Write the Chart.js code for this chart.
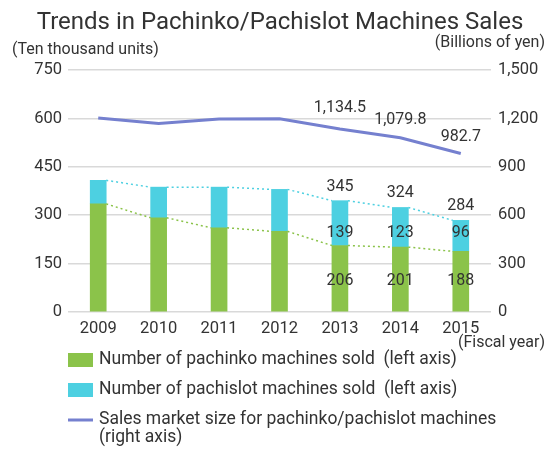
<!DOCTYPE html>
<html>
<head>
<meta charset="utf-8">
<script src="https://cdn.jsdelivr.net/npm/chart.js@4/dist/chart.umd.min.js"></script>
<style>
html, body { margin: 0; padding: 0; background: #fff; }
</style>
</head>
<body>
<canvas id="sales_chart" width="548" height="450"></canvas>
<script>
"use strict"

// Fiscal years and sales figures (ten thousand units / billions of yen)
var years = ["2009", "2010", "2011", "2012", "2013", "2014", "2015"];
var pachinkoUnits = [335, 292, 261, 250, 206, 201, 188];
var pachislotUnits = [73, 95, 126, 130, 139, 123, 96];
var marketSize = [1203, 1169, 1197, 1198, 1134.5, 1079.8, 982.7];
var labeledYears = ["2013", "2014", "2015"];
var leftTicks = [0, 150, 300, 450, 600, 750];
var rightTicks = [0, 300, 600, 900, 1200, 1500];
var seriesNames = [
    "Number of pachinko machines sold  (left axis)",
    "Number of pachislot machines sold  (left axis)",
    "Sales market size for pachinko/pachislot machines\n(right axis)"
];

var FONT = "Roboto, 'DejaVu Sans', sans-serif";
var TEXT = "#333333";
var GREEN = "#8bc34a";
var CYAN = "#4dd0e1";
var PURPLE = "#7580cf";

function fmt(v, digits) {
    return v.toLocaleString("en-US", {minimumFractionDigits: digits, maximumFractionDigits: digits});
}

var extras = {
    id: 'extras',
    afterDatasetsDraw: function(chart) {
        var ctx = chart.ctx;
        var y = chart.scales.y;
        ctx.save();
        // dotted series lines between bar tops
        [[0, GREEN], [1, CYAN]].forEach(function(d) {
            var bars = chart.getDatasetMeta(d[0]).data;
            ctx.strokeStyle = d[1];
            ctx.lineWidth = 1.5;
            ctx.setLineDash([2, 3]);
            ctx.beginPath();
            for (var i = 0; i < bars.length - 1; i++) {
                ctx.moveTo(bars[i].x + bars[i].width / 2, bars[i].y);
                ctx.lineTo(bars[i + 1].x - bars[i + 1].width / 2, bars[i + 1].y);
            }
            ctx.stroke();
        });
        ctx.setLineDash([]);

        // value labels
        ctx.fillStyle = TEXT;
        ctx.font = "16px " + FONT;
        ctx.textAlign = "center";
        ctx.textBaseline = "middle";
        var green = chart.getDatasetMeta(0).data;
        var cyan = chart.getDatasetMeta(1).data;
        years.forEach(function(yr, i) {
            if (labeledYears.indexOf(yr) < 0) return;
            ctx.fillText(String(pachinkoUnits[i]), green[i].x, y.getPixelForValue(95));
            ctx.fillText(String(pachislotUnits[i]), cyan[i].x, y.getPixelForValue(244));
            ctx.fillText(String(pachinkoUnits[i] + pachislotUnits[i]), cyan[i].x, cyan[i].y - 14);
        });
        var pts = chart.getDatasetMeta(2).data;
        var offs = [-21, -18, -16];
        var k = 0;
        years.forEach(function(yr, i) {
            if (labeledYears.indexOf(yr) < 0) return;
            ctx.fillText(fmt(marketSize[i], 1), pts[i].x, pts[i].y + offs[k]);
            k++;
        });
        ctx.restore();
    },
    afterDraw: function(chart) {
        var ctx = chart.ctx;
        ctx.save();
        ctx.fillStyle = TEXT;
        ctx.textAlign = "center";
        ctx.textBaseline = "alphabetic";
        ctx.font = "24px " + FONT;
        ctx.fillText("Trends in Pachinko/Pachislot Machines Sales", 280, 29);

        ctx.textBaseline = "middle";
        ctx.font = "16px " + FONT;
        ctx.textAlign = "left";
        ctx.fillText("(Ten thousand units)", 12, 50);
        ctx.textAlign = "right";
        ctx.fillText("(Billions of yen)", 545, 43);
        ctx.fillText("(Fiscal year)", 545, 343);

        // legend
        ctx.textAlign = "left";
        ctx.font = "17.5px " + FONT;
        var rows = [360, 390, 420];
        chart.data.datasets.forEach(function(ds, i) {
            var cy = rows[i];
            if (ds.type === 'line') {
                ctx.strokeStyle = ds.borderColor;
                ctx.lineWidth = 3;
                ctx.beginPath();
                ctx.moveTo(68, cy);
                ctx.lineTo(93, cy);
                ctx.stroke();
            } else {
                ctx.fillStyle = ds.backgroundColor;
                ctx.fillRect(68, cy - 7, 25, 14);
            }
            ctx.fillStyle = TEXT;
            ds.label.split("\n").forEach(function(line, j) {
                ctx.fillText(line, 99, cy + j * 18);
            });
        });
        ctx.restore();
    }
};

var salesChart = new Chart(document.getElementById("sales_chart"), {
    type: 'bar',
    data: {
        labels: years,
        datasets: [
            {
                label: seriesNames[0],
                data: pachinkoUnits,
                backgroundColor: GREEN,
                yAxisID: 'y',
                barThickness: 16
            },
            {
                label: seriesNames[1],
                data: pachislotUnits,
                backgroundColor: CYAN,
                yAxisID: 'y',
                barThickness: 16
            },
            {
                type: 'line',
                label: seriesNames[2],
                data: marketSize,
                borderColor: PURPLE,
                backgroundColor: PURPLE,
                borderWidth: 3,
                pointRadius: 0,
                tension: 0,
                yAxisID: 'y1'
            }
        ]
    },
    options: {
        responsive: false,
        animation: false,
        layout: { padding: { left: 0, right: 0, top: 70, bottom: 100 } },
        plugins: {
            legend: { display: false },
            tooltip: { enabled: false },
            title: { display: false }
        },
        scales: {
            x: {
                stacked: true,
                grid: { display: false, drawTicks: false },
                border: { display: false },
                ticks: { color: TEXT, font: { family: FONT, size: 16.5 }, padding: 7, maxRotation: 0 },
                afterFit: function(s) { s.height = 38; }
            },
            y: {
                stacked: true,
                position: 'left',
                min: 0,
                max: 750,
                grid: { color: "#d9d9d9", drawTicks: false, lineWidth: 1.5 },
                border: { display: false },
                ticks: { color: TEXT, font: { family: FONT, size: 16.5 }, padding: 6 },
                afterBuildTicks: function(s) { s.ticks = leftTicks.map(function(v) { return {value: v}; }); },
                afterFit: function(s) { s.width = 68; }
            },
            y1: {
                position: 'right',
                min: 0,
                max: 1500,
                grid: { display: false, drawTicks: false },
                border: { display: false },
                ticks: {
                    color: TEXT,
                    font: { family: FONT, size: 16.5 },
                    padding: 7,
                    callback: function(v) { return fmt(v, 0); }
                },
                afterBuildTicks: function(s) { s.ticks = rightTicks.map(function(v) { return {value: v}; }); },
                afterFit: function(s) { s.width = 57; }
            }
        }
    },
    plugins: [extras]
});
</script>
</body>
</html>
